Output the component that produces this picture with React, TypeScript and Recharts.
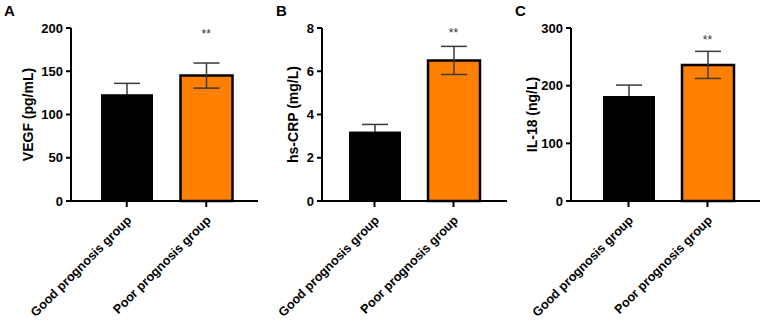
import React from 'react';
import { BarChart, Bar, XAxis, YAxis, Cell, ErrorBar, ReferenceDot } from 'recharts';

const FONT = '"Liberation Sans", Arial, sans-serif';

const groups = ['Good prognosis group', 'Poor prognosis group'];
const barColors = ['#000000', '#FF8000'];

// VEGF (pg/mL)
const vegfMean = [123, 145];
const vegfSd = [13, 14.5];
const vegfTicks = [0, 50, 100, 150, 200];

// hs-CRP (mg/L)
const crpMean = [3.2, 6.5];
const crpSd = [0.34, 0.65];
const crpTicks = [0, 2, 4, 6, 8];

// IL-18 (ng/L)
const il18Mean = [182, 236];
const il18Sd = [19, 23.5];
const il18Ticks = [0, 100, 200, 300];

// height of the "**" marker on each panel, in data units
const starLevel = [193, 7.8, 280];

const toRows = (mean: number[], sd: number[]) =>
  groups.map((g, i) => ({ group: g, mean: mean[i], sd: sd[i] }));

// slanted category names, right end tucked under the tick
const CategoryTick = ({ x, y, payload }: any) => (
  <g transform={`translate(${x + 5.5},${y + 12}) rotate(-45)`}>
    <text x={0} y={0} textAnchor="end" fontSize={12.6} fontWeight="bold" fontFamily={FONT} fill="#000">
      {payload.value}
    </text>
  </g>
);

interface PanelProps {
  letter: string;
  title: string;
  rows: { group: string; mean: number; sd: number }[];
  ticks: number[];
  stars: number;
  left: number;
  width: number;
  yWidth: number;
  marginRight: number;
  padL: number;
  padR: number;
  titleX: number;
  letterX: number;
}

function Panel(p: PanelProps) {
  const top = p.ticks[p.ticks.length - 1];
  return (
    <div style={{ position: 'absolute', left: p.left, top: 0, width: p.width, height: 324 }}>
      <div
        style={{
          position: 'absolute',
          left: p.letterX,
          top: 2,
          fontFamily: FONT,
          fontWeight: 'bold',
          fontSize: 15,
          color: '#000',
        }}
      >
        {p.letter}
      </div>
      <BarChart
        width={p.width}
        height={324}
        data={p.rows}
        margin={{ top: 28, right: p.marginRight, left: 20, bottom: 13 }}
      >
        <XAxis
          dataKey="group"
          height={110}
          interval={0}
          padding={{ left: p.padL, right: p.padR }}
          axisLine={{ stroke: '#000', strokeWidth: 2 }}
          tickLine={{ stroke: '#000', strokeWidth: 2 }}
          tickSize={6}
          tickMargin={2}
          tick={<CategoryTick />}
        />
        {/* twin axis so the black bar can be painted again over its lower whisker */}
        <XAxis
          xAxisId="cover"
          dataKey="group"
          hide
          height={110}
          padding={{ left: p.padL, right: p.padR }}
        />
        <YAxis
          width={p.yWidth}
          domain={[0, top]}
          ticks={p.ticks}
          interval={0}
          axisLine={{ stroke: '#000', strokeWidth: 2 }}
          tickLine={{ stroke: '#000', strokeWidth: 2 }}
          tickSize={5}
          tickMargin={3}
          tick={{ fontSize: 13, fontWeight: 'bold', fontFamily: FONT, fill: '#000' }}
          label={{
            content: ({ viewBox }: any) => {
              const cx = p.titleX;
              const cy = viewBox.y + viewBox.height / 2;
              return (
                <text
                  x={cx}
                  y={cy}
                  transform={`rotate(-90, ${cx}, ${cy})`}
                  textAnchor="middle"
                  dy="0.35em"
                  fontSize={14}
                  fontWeight="bold"
                  fontFamily={FONT}
                  fill="#000"
                >
                  {p.title}
                </text>
              );
            },
          }}
        />
        <Bar dataKey="mean" barSize={52} isAnimationActive={false}>
          {p.rows.map((r, i) => (
            <Cell key={r.group} fill={barColors[i]} stroke="#000" strokeWidth={i === 0 ? 0 : 2.5} />
          ))}
          <ErrorBar dataKey="sd" direction="y" width={13} stroke="#3a3a3a" strokeWidth={1.5} />
        </Bar>
        <Bar
          xAxisId="cover"
          dataKey="mean"
          barSize={52}
          isAnimationActive={false}
          {...({ zIndex: 1000 } as any)}
        >
          {p.rows.map((r, i) => (
            <Cell key={r.group} fill={i === 0 ? barColors[0] : 'none'} strokeWidth={0} />
          ))}
        </Bar>
        <ReferenceDot
          x={groups[1]}
          y={p.stars}
          r={0}
          label={{ value: '**', position: 'center', fontSize: 12, fill: '#333', fontFamily: FONT }}
        />
      </BarChart>
    </div>
  );
}

export default function App() {
  return (
    <div style={{ position: 'absolute', left: 0, top: 0, width: 767, height: 324, background: '#fff' }}>
      <Panel
        letter="A"
        title="VEGF (pg/mL)"
        rows={toRows(vegfMean, vegfSd)}
        ticks={vegfTicks}
        stars={starLevel[0]}
        left={0}
        width={262}
        yWidth={51}
        marginRight={4}
        padL={16}
        padR={12}
        titleX={28}
        letterX={4}
      />
      <Panel
        letter="B"
        title="hs-CRP (mg/L)"
        rows={toRows(crpMean, crpSd)}
        ticks={crpTicks}
        stars={starLevel[1]}
        left={255}
        width={255}
        yWidth={47}
        marginRight={3}
        padL={13}
        padR={14}
        titleX={38}
        letterX={21}
      />
      <Panel
        letter="C"
        title="IL-18 (ng/L)"
        rows={toRows(il18Mean, il18Sd)}
        ticks={il18Ticks}
        stars={starLevel[2]}
        left={510}
        width={257}
        yWidth={41}
        marginRight={7}
        padL={18}
        padR={13}
        titleX={22}
        letterX={5}
      />
    </div>
  );
}
